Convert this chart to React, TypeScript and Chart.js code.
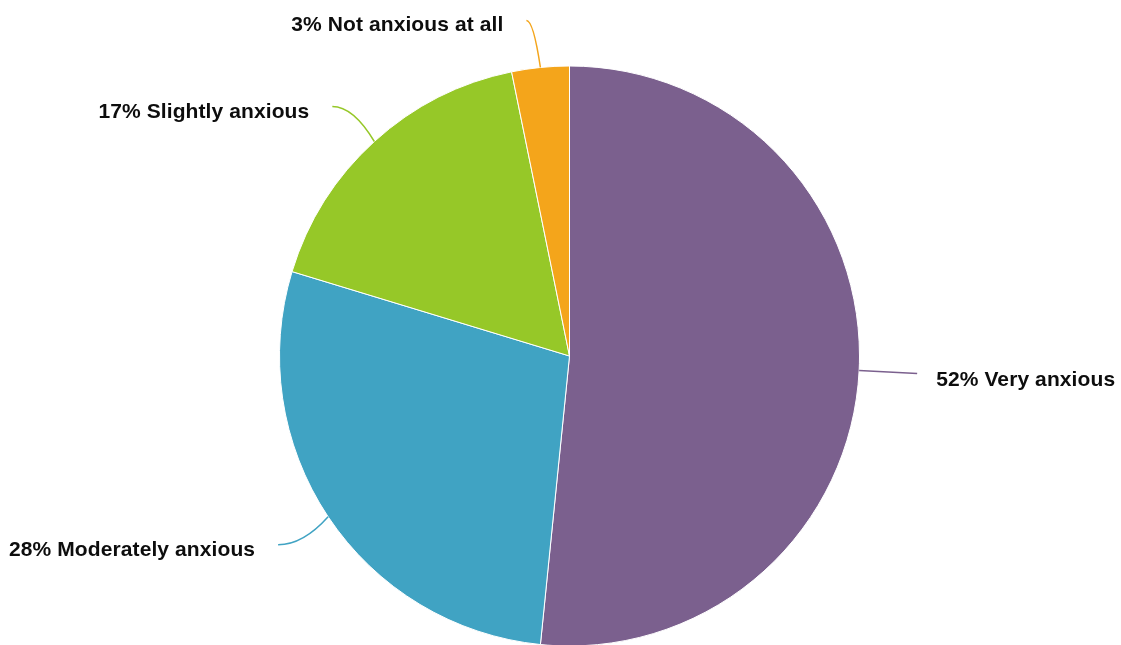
import React, { useEffect, useRef } from "react";
import { Chart, registerables } from "chart.js";

Chart.register(...registerables);

const categories = ["Very anxious", "Moderately anxious", "Slightly anxious", "Not anxious at all"];
const values = [51.6, 28.1, 17.1, 3.2];
const percentLabels = ["52%", "28%", "17%", "3%"];
const colors = ["#7B608E", "#40A3C3", "#96C828", "#F4A51B"];
// leader line offsets from slice edge midpoint (layout only)
const leaderOffsets = [
  [58, 3],
  [-50, 28],
  [-42, -35],
  [-14, -47],
];
const labelSides = ["right", "left", "left", "left"];

const labelPlugin = {
  id: "pieLabels",
  afterDraw(chart: any) {
    const ctx = chart.ctx;
    const meta = chart.getDatasetMeta(0);
    ctx.save();
    meta.data.forEach((arc: any, i: number) => {
      const mid = (arc.startAngle + arc.endAngle) / 2;
      const r = arc.outerRadius;
      const sx = arc.x + Math.cos(mid) * r;
      const sy = arc.y + Math.sin(mid) * r;
      const ex = sx + leaderOffsets[i][0];
      const ey = sy + leaderOffsets[i][1];
      const cx = sx + (ex - sx) * 0.5;
      const cy = i === 0 ? sy + (ey - sy) * 0.5 : ey;
      ctx.beginPath();
      ctx.moveTo(sx, sy);
      ctx.quadraticCurveTo(cx, cy, ex, ey);
      ctx.strokeStyle = colors[i];
      ctx.lineWidth = 1.5;
      ctx.stroke();
      const text = percentLabels[i] + " " + categories[i];
      ctx.font = "bold 21px 'Liberation Sans', Arial, sans-serif";
      try {
        (ctx as any).letterSpacing = "0.1px";
      } catch (e) {}
      ctx.fillStyle = "#0d0d0d";
      ctx.textBaseline = "alphabetic";
      if (labelSides[i] === "right") {
        ctx.textAlign = "left";
        ctx.fillText(text, ex + 19, ey + 12);
      } else {
        ctx.textAlign = "right";
        ctx.fillText(text, ex - 23, ey + 11);
      }
    });
    ctx.restore();
  },
};

export default function App() {
  const ref = useRef<HTMLCanvasElement>(null);
  useEffect(() => {
    if (!ref.current) return;
    const chart = new Chart(ref.current, {
      type: "pie",
      data: {
        labels: categories,
        datasets: [
          {
            data: values,
            backgroundColor: colors,
            borderColor: "#ffffff",
            borderWidth: 1,
          },
        ],
      },
      options: {
        animation: false,
        responsive: false,
        radius: 290,
        layout: { padding: { left: 18, right: 0, top: 0, bottom: 0 } },
        plugins: {
          legend: { display: false },
          tooltip: { enabled: false },
        },
      } as any,
      plugins: [labelPlugin],
    });
    return () => chart.destroy();
  }, []);
  return (
    <div style={{ position: "fixed", left: 0, top: 0, width: 1121, height: 645, overflow: "hidden", background: "#fff" }}>
      <canvas ref={ref} width={1121} height={712} style={{ width: 1121, height: 712, display: "block" }} />
    </div>
  );
}
